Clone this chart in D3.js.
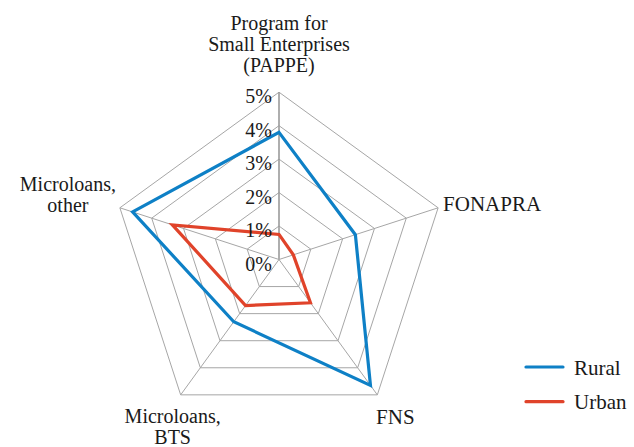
<!DOCTYPE html>
<html>
<head>
<meta charset="utf-8">
<script src="https://cdn.jsdelivr.net/npm/d3@7"></script>
<style>
  html, body { margin: 0; padding: 0; background: #fff; }
  svg { display: block; }
  .lbl { font-family: "Liberation Serif", "Times New Roman", "DejaVu Serif", serif; }
</style>
</head>
<body>
<svg id="chart" width="634" height="447"></svg>
<script>
const categories = [
  ["Program for", "Small Enterprises", "(PAPPE)"],
  ["FONAPRA"],
  ["FNS"],
  ["Microloans,", "BTS"],
  ["Microloans,", "other"]
];
const rural = [3.8, 2.4, 4.65, 2.3, 4.6];
const urban = [0.75, 0.45, 1.6, 1.7, 3.35];
const tickValues = [0, 1, 2, 3, 4, 5];
const tickLabels = ["0%", "1%", "2%", "3%", "4%", "5%"];
const seriesNames = ["Rural", "Urban"];
const seriesColors = ["#0e80c6", "#e0432a"];

const svg = d3.select("#chart");
const cx = 279, cy = 259.5, R = 167.3;
const n = categories.length;
const r = d3.scaleLinear().domain([0, 5]).range([0, R]);
const ang = d3.scaleLinear().domain([0, n]).range([0, 2 * Math.PI]);
const pt = (i, v) => [cx + r(v) * Math.sin(ang(i)), cy - r(v) * Math.cos(ang(i))];

const g = svg.append("g");

tickValues.filter(t => t > 0).forEach(t => {
  g.append("path")
    .attr("d", d3.line()(d3.range(n).map(i => pt(i, t))) + "Z")
    .attr("fill", "none").attr("stroke", "#a6a6a6").attr("stroke-width", 1);
});
d3.range(n).forEach(i => {
  const [x, y] = pt(i, 5);
  g.append("line").attr("x1", cx).attr("y1", cy).attr("x2", x).attr("y2", y)
    .attr("stroke", i === 0 ? "#9a9a9a" : "#a6a6a6")
    .attr("stroke-width", i === 0 ? 1.6 : 1);
});

const radial = d3.lineRadial().angle((d, i) => ang(i)).radius(d => r(d)).curve(d3.curveLinearClosed);
[rural, urban].forEach((s, k) => {
  g.append("path")
    .attr("transform", `translate(${cx},${cy})`)
    .attr("d", radial(s))
    .attr("fill", "none")
    .attr("stroke", seriesColors[k])
    .attr("stroke-width", 3.2)
    .attr("stroke-linejoin", "miter");
});

tickValues.forEach((t, i) => {
  g.append("text").attr("class", "lbl")
    .attr("x", cx - 7).attr("y", cy - r(t) + 11)
    .attr("text-anchor", "end").attr("font-size", 20).attr("fill", "#1a1a1a")
    .text(tickLabels[i]);
});

const labelOffsets = [
  { dx: 0, dy: -62, anchor: "middle", fs: 20 },
  { dx: 5, dy: 3, anchor: "start", fs: 21 },
  { dx: 18, dy: 29, anchor: "middle", fs: 21 },
  { dx: -8, dy: 28, anchor: "middle", fs: 20 },
  { dx: -52, dy: -17, anchor: "middle", fs: 20 }
];
categories.forEach((lines, i) => {
  const [x, y] = pt(i, 5);
  const o = labelOffsets[i];
  const t = g.append("text").attr("class", "lbl")
    .attr("x", x + o.dx).attr("y", y + o.dy)
    .attr("text-anchor", o.anchor).attr("font-size", o.fs).attr("fill", "#1a1a1a");
  lines.forEach((l, j) => {
    t.append("tspan").attr("x", x + o.dx).attr("dy", j === 0 ? 0 : 21).text(l);
  });
});

seriesNames.forEach((name, k) => {
  const y = 367 + k * 34.7;
  g.append("line").attr("x1", 526).attr("x2", 563).attr("y1", y).attr("y2", y)
    .attr("stroke", seriesColors[k]).attr("stroke-width", 3.2).attr("stroke-linecap", "round");
  g.append("text").attr("class", "lbl").attr("x", 574).attr("y", y + 7.5).attr("font-size", 21)
    .attr("fill", "#1a1a1a").text(name);
});
</script>
</body>
</html>
